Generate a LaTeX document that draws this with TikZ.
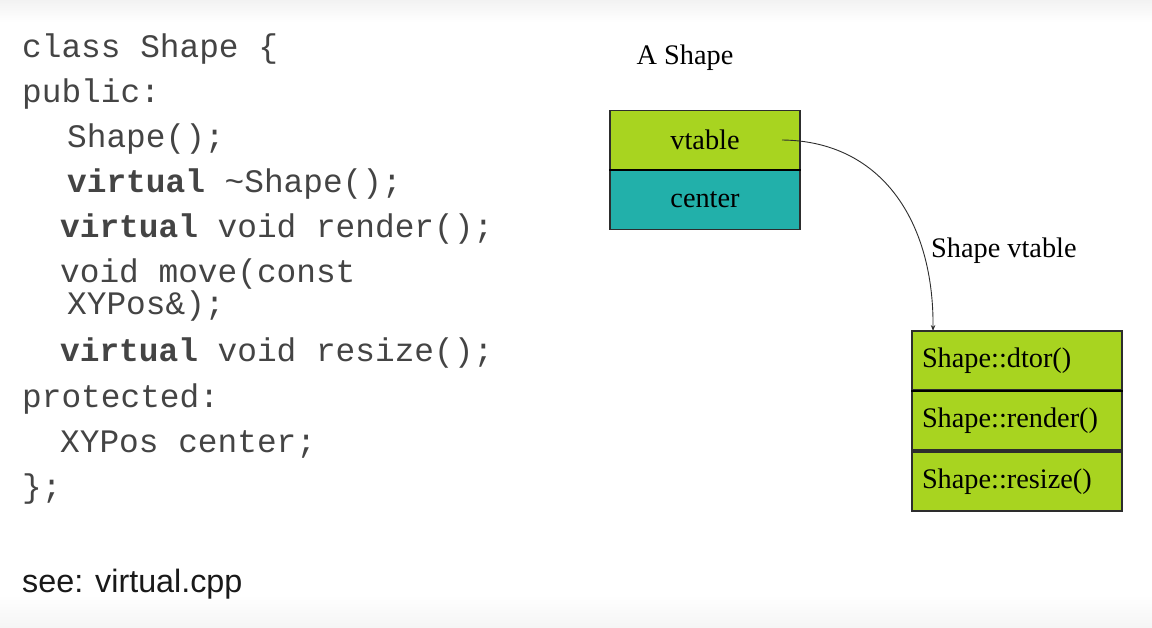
\documentclass[tikz,border=0pt]{standalone}
\usepackage{fontspec}
\setmainfont{Liberation Serif}
\setsansfont{Liberation Sans}
\setmonofont{Liberation Mono}
\usetikzlibrary{arrows.meta}
\definecolor{limefill}{RGB}{168,212,32}
\definecolor{tealfill}{RGB}{34,176,170}
\definecolor{edgegrey}{RGB}{45,45,45}
\definecolor{codegrey}{RGB}{68,68,68}
\begin{document}
\begin{tikzpicture}[x=1pt,y=-1pt,
  code/.style={anchor=base west,inner sep=0pt,text=codegrey,
    font=\fontsize{32.8}{32.8}\selectfont\ttfamily},
  lbl/.style={inner sep=0pt,text=black,font=\fontsize{28.3}{28.3}\selectfont},
  cell/.style={draw=edgegrey,line width=1.4pt,minimum width=190pt,
    minimum height=59.5pt,inner sep=0pt,font=\fontsize{28.3}{28.3}\selectfont},
  slot/.style={draw=edgegrey,line width=1.4pt,fill=limefill,text width=190pt,
    inner xsep=10pt,inner ysep=0pt,align=left,minimum height=59pt,
    font=\fontsize{28.3}{28.3}\selectfont},
  link/.style={draw=edgegrey,line width=0.9pt,-{Stealth[length=6pt,width=4.5pt]}}]
% page and soft top/bottom bands
\fill[white] (0,0) rectangle (1152,628);
\shade[top color=black!5,bottom color=white] (0,0) rectangle (1152,22);
\shade[top color=white,bottom color=black!4] (0,595) rectangle (1152,628);
\useasboundingbox (0,0) rectangle (1152,628);

% class declaration
\node[code] (c1) at (22,58) {class Shape \{};
\node[code] (c2) at (22,103) {public:};
\node[code] (c3) at (67,148) {Shape();};
\node[code] (c4) at (67,193) {\textbf{virtual} \textasciitilde Shape();};
\node[code] (c5) at (60,238) {\textbf{virtual} void render();};
\node[code] (c6) at (60,283) {void move(const};
\node[code] (c7) at (67,315) {XYPos\&);};
\node[code] (c8) at (60,362) {\textbf{virtual} void resize();};
\node[code] (c9) at (22,407) {protected:};
\node[code] (c10) at (60,452) {XYPos center;};
\node[code] (c11) at (22,497) {\};};
\node[anchor=base west,inner sep=0pt,text=black!90,
  font=\fontsize{32.3}{32.3}\selectfont\sffamily] (see) at (22,592) {see: virtual.cpp};

% object layout
\node[lbl] (objtitle) at (685,58) {A Shape};
\node[cell,fill=limefill] (vptr) at (705,140) {vtable};
\node[cell,fill=tealfill] (center) at (705,199.5) {center};
\draw[black,line width=2pt] (vptr.south west) -- (vptr.south east);

% vtable
\node[lbl,anchor=west] (vtitle) at (931,251) {Shape vtable};
\node[slot] (dtor) at (1017,360.5) {Shape::dtor()};
\node[slot] (render) at (1017,420.5) {Shape::render()};
\node[slot] (resize) at (1017,481.5) {Shape::resize()};
\draw[black,line width=2pt] (dtor.south west) -- (dtor.south east);

% vptr to table
\coordinate (vpstart) at (782,140);
\coordinate (vpend) at (933,331);
\draw[link] (vpstart) .. controls (882,141) and (934,222) .. (vpend);
\end{tikzpicture}
\end{document}
